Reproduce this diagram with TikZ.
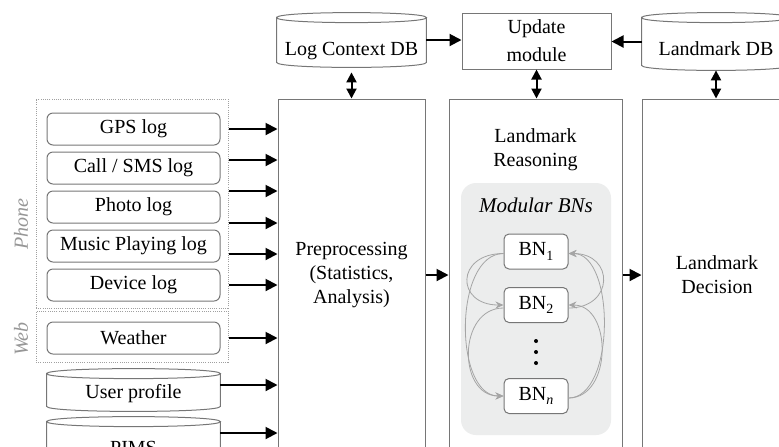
\documentclass[tikz,border=0pt]{standalone}
\usepackage{fontspec}
\setmainfont{Liberation Serif}
\usetikzlibrary{arrows.meta,calc}
\definecolor{edge}{RGB}{118,118,118}
\definecolor{dotc}{RGB}{160,160,160}
\definecolor{panel}{RGB}{236,237,237}
\definecolor{curve}{RGB}{165,165,165}
\definecolor{sidec}{RGB}{150,150,150}

% outline of a database drum around a named node
\newcommand\dbdraw[1]{%
  \draw[dbline] ($(#1.north west)+(0,5)$)
    .. controls ($(#1.north west)+(0,-1.67)$) and ($(#1.north east)+(0,-1.67)$) .. ($(#1.north east)+(0,5)$)
    .. controls ($(#1.north east)+(0,11.67)$) and ($(#1.north west)+(0,11.67)$) .. ($(#1.north west)+(0,5)$)
    -- ($(#1.south west)+(0,-5)$)
    .. controls ($(#1.south west)+(0,1.67)$) and ($(#1.south east)+(0,1.67)$) .. ($(#1.south east)+(0,-5)$)
    -- ($(#1.north east)+(0,5)$);
}
% lowered index digit used in the BN labels
\newcommand\bnidx[1]{\raisebox{-2.2pt}{\fontsize{7pt}{8pt}\selectfont #1}}

\begin{document}
\begin{tikzpicture}[x=0.5pt,y=-0.5pt,
  txt/.style={font=\fontsize{10pt}{12pt}\selectfont, align=center, inner sep=0pt},
  logbox/.style={txt, draw=edge, line width=0.5pt, rounded corners=3pt,
    minimum width=86.5pt, minimum height=16pt},
  group/.style={draw=dotc, line width=0.5pt, dash pattern=on 0.5pt off 0.6pt, inner sep=0pt},
  block/.style={txt, draw=edge, line width=0.5pt, fill=white, minimum height=176pt},
  dbnode/.style={txt, text depth=0pt},
  dbline/.style={draw=edge, line width=0.5pt},
  arr/.style={line width=1pt, -{Triangle[length=6pt,width=6pt]}},
  darr/.style={line width=1pt, {Triangle[length=5pt,width=5pt]}-{Triangle[length=5pt,width=5pt]}},
  bn/.style={txt, draw=edge, line width=0.5pt, fill=white, rounded corners=2.5pt,
    minimum width=32pt, minimum height=17.5pt},
  bnarr/.style={draw=curve, line width=0.4pt, -{Stealth[length=4pt,width=3.5pt]}},
  sidelbl/.style={font=\fontsize{10pt}{12pt}\selectfont\itshape, text=sidec, rotate=90, inner sep=0pt},
]
\useasboundingbox (0,0) rectangle (779,446);
\clip (0,0) rectangle (779,446);

% source groups
\node[group, minimum width=96pt, minimum height=104.5pt] (phone) at (132,203.5) {};
\node[group, minimum width=96pt, minimum height=25.5pt] (web) at (132,336.5) {};
\node[sidelbl] (phonelbl) at (21,224) {Phone};
\node[sidelbl] (weblbl) at (21,339) {Web};

% log sources
\node[logbox] (gps) at (133.5,129) {GPS log};
\node[logbox] (call) at (133.5,168) {Call / SMS log};
\node[logbox] (photo) at (133.5,207) {Photo log};
\node[logbox] (music) at (133.5,246) {Music Playing log};
\node[logbox] (device) at (133.5,285) {Device log};
\node[logbox] (weather) at (133.5,338) {Weather};

% databases
\node[dbnode, minimum width=86.5pt, minimum height=21pt, text height=8pt] (user) at (133.5,390) {User profile};
\node[dbnode, minimum width=86.5pt, minimum height=21pt, text height=16pt] (pims) at (133.5,438) {PIMS};
\node[dbnode, minimum width=74.5pt, minimum height=27pt, text height=15pt] (logdb) at (351.5,40) {Log Context DB};
\node[dbnode, minimum width=74pt, minimum height=28.5pt, text height=13.5pt] (lmdb) at (716,41.5) {Landmark DB};
\dbdraw{user}
\dbdraw{pims}
\dbdraw{logdb}
\dbdraw{lmdb}

\node[txt, font=\fontsize{10pt}{14pt}\selectfont, draw=edge, line width=0.5pt,
  minimum width=74.5pt, minimum height=28pt] (update) at (536.5,41) {Update\\module};

% processing stages
\node[block, minimum width=73.5pt] (pre) at (351.5,275) {Preprocessing\\(Statistics,\\Analysis)};
\node[block, minimum width=86.5pt] (reas) at (535.5,275) {};
\node[block, minimum width=75pt] (dec) at (717,275) {Landmark\\Decision};
\node[txt] (reaslbl) at (535.5,150) {Landmark\\Reasoning};

% modular Bayesian networks
\node[fill=panel, rounded corners=7.5pt, minimum width=75pt, minimum height=126pt, inner sep=0pt] (panel) at (536,309) {};
\node[txt, font=\fontsize{10.5pt}{12pt}\selectfont\itshape] (modlbl) at (536,205) {Modular BNs};
\node[bn] (bn1) at (536,251.5) {BN\bnidx{1}};
\node[bn] (bn2) at (536,305) {BN\bnidx{2}};
\node[bn] (bnn) at (536,396) {BN\bnidx{\itshape n}};
\foreach \yy in {341,352,363} \fill (536,\yy) circle[radius=1pt];

\draw[bnarr] ($(bn1.west)+(0,2)$) .. controls ($(bn1.west)+(-48,2)$) and ($(bn2.west)+(-48,0)$) .. (bn2.west);
\draw[bnarr] ($(bn1.west)+(0,2)$) .. controls ($(bn1.west)+(-50,2)$) and ($(bnn.west)+(-50,0)$) .. (bnn.west);
\draw[bnarr] ($(bn2.west)+(0,3)$) .. controls ($(bn2.west)+(-46,3)$) and ($(bnn.west)+(-46,0)$) .. (bnn.west);
\draw[bnarr] ($(bn2.east)+(0,3)$) .. controls ($(bn2.east)+(46,3)$) and ($(bn1.east)+(46,2)$) .. ($(bn1.east)+(0,2)$);
\draw[bnarr] ($(bnn.east)+(0,2)$) .. controls ($(bnn.east)+(47,2)$) and ($(bn1.east)+(47,2)$) .. ($(bn1.east)+(0,2)$);
\draw[bnarr] ($(bnn.east)+(0,2)$) .. controls ($(bnn.east)+(44,2)$) and ($(bn2.east)+(44,0)$) .. (bn2.east);

% inputs to preprocessing
\foreach \i/\yy in {1/129,2/160,3/191,4/223,5/254,6/285} {
  \coordinate (p\i) at (0,\yy);
  \draw[arr] (phone.east |- p\i) -- (pre.west |- p\i);
}
\coordinate (w1) at (0,338);
\draw[arr] (web.east |- w1) -- (pre.west |- w1);
\coordinate (u1) at (0,385);
\draw[arr] (user.east |- u1) -- (pre.west |- u1);
\coordinate (m1) at (0,433);
\draw[arr] (pims.east |- m1) -- (pre.west |- m1);

% stage flow
\draw[arr] (pre.east) -- (reas.west);
\draw[arr] (reas.east) -- (dec.west);
\draw[arr] (logdb.east) -- (update.west |- logdb.east);
\draw[arr] (lmdb.west) -- (update.east |- lmdb.west);
\draw[darr, shorten <=2.5pt] (logdb.south) -- (pre.north);
\draw[darr] (update.south) -- (update.south |- reas.north);
\draw[darr] (lmdb.south) -- (lmdb.south |- dec.north);
\end{tikzpicture}
\end{document}
